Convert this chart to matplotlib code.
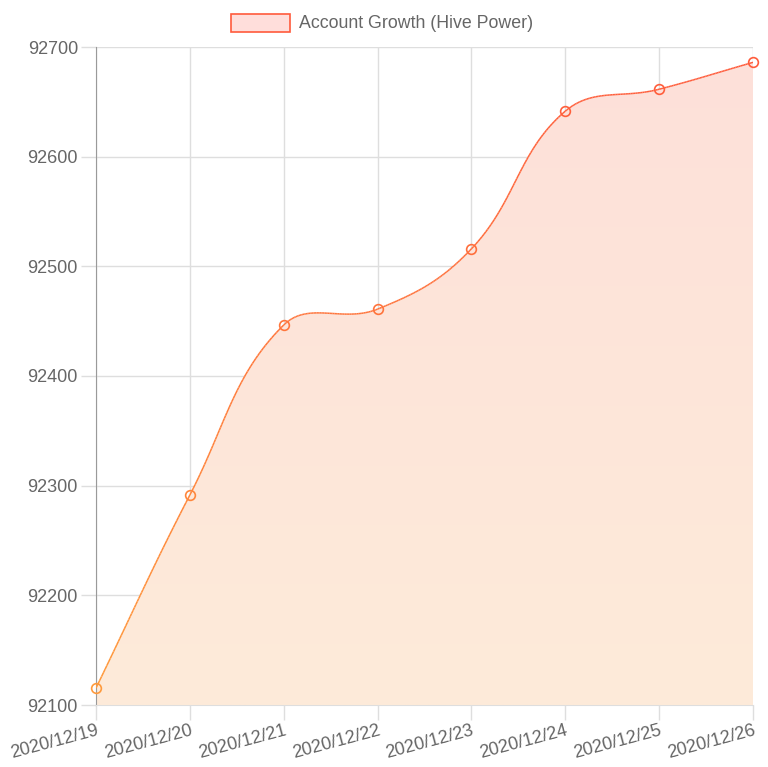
import numpy as np
import matplotlib
matplotlib.use("Agg")
import matplotlib.pyplot as plt
from matplotlib.collections import LineCollection
from matplotlib.patches import Rectangle, Polygon
from matplotlib.colors import to_rgb

plt.rcParams['font.family'] = ['Liberation Sans', 'DejaVu Sans']

dates = ['2020/12/19', '2020/12/20', '2020/12/21', '2020/12/22',
         '2020/12/23', '2020/12/24', '2020/12/25', '2020/12/26']
hive_power = [92115.5, 92291.5, 92446.5, 92461, 92516, 92641.5, 92661.5, 92686]
y_ticks = [92100, 92200, 92300, 92400, 92500, 92600, 92700]
label = 'Account Growth (Hive Power)'

W, H, DPI = 768, 767, 100
left, right, top, bottom = 96, 753, 47, 705
ymin, ymax = 92100, 92700

line_top = np.array(to_rgb('#ff5a3c'))
line_bot = np.array(to_rgb('#ff9c3c'))
fill_top = np.array(to_rgb('#fde0da'))
fill_bot = np.array(to_rgb('#feebd9'))
grid_c = '#dedede'
text_c = '#666666'

fig = plt.figure(figsize=(W / DPI, H / DPI), dpi=DPI)
ax = fig.add_axes([left / W, 1 - bottom / H, (right - left) / W, (bottom - top) / H])

n = len(dates)
xs = np.arange(n, dtype=float)
ys = np.array(hive_power, dtype=float)

# chart.js style bezier (tension 0.4), computed in pixel space
aw, ah = right - left, bottom - top
px = xs * aw / (n - 1)
py = (ys - ymin) * ah / (ymax - ymin)
t = 0.4
cp_prev, cp_next = [], []
for i in range(n):
    p0 = np.array([px[max(i - 1, 0)], py[max(i - 1, 0)]])
    p1 = np.array([px[i], py[i]])
    p2 = np.array([px[min(i + 1, n - 1)], py[min(i + 1, n - 1)]])
    d01 = np.hypot(*(p1 - p0))
    d12 = np.hypot(*(p2 - p1))
    tot = d01 + d12
    s01 = d01 / tot if tot else 0
    s12 = d12 / tot if tot else 0
    cp_prev.append(p1 - t * s01 * (p2 - p0))
    cp_next.append(p1 + t * s12 * (p2 - p0))
cp_prev = [np.clip(c, [0, 0], [aw, ah]) for c in cp_prev]
cp_next = [np.clip(c, [0, 0], [aw, ah]) for c in cp_next]

curve = []
u = np.linspace(0, 1, 60)[:, None]
for i in range(n - 1):
    a = np.array([px[i], py[i]])
    b = cp_next[i]
    c = cp_prev[i + 1]
    d = np.array([px[i + 1], py[i + 1]])
    seg = (1 - u) ** 3 * a + 3 * (1 - u) ** 2 * u * b + 3 * (1 - u) * u ** 2 * c + u ** 3 * d
    curve.append(seg if i == 0 else seg[1:])
curve = np.vstack(curve)
cx = curve[:, 0] * (n - 1) / aw
cy = curve[:, 1] * (ymax - ymin) / ah + ymin

ax.set_xlim(0, n - 1)
ax.set_ylim(ymin, ymax)

# gradient fill under the curve
grad = np.linspace(0, 1, 256)[:, None]
img = fill_bot + (fill_top - fill_bot) * grad[:, :, None]
img = np.repeat(img, 2, axis=1)
im = ax.imshow(img, extent=[0, n - 1, ymin, ymax], origin='lower', aspect='auto', zorder=1)
poly = Polygon(np.column_stack([np.r_[cx, cx[-1], cx[0]], np.r_[cy, ymin, ymin]]),
               closed=True, transform=ax.transData, facecolor='none', edgecolor='none')
ax.add_patch(poly)
im.set_clip_path(poly)

# gradient line
def line_color(v):
    f = (v - ymin) / (ymax - ymin)
    return line_bot + (line_top - line_bot) * f

pts = np.column_stack([cx, cy]).reshape(-1, 1, 2)
segs = np.concatenate([pts[:-1], pts[1:]], axis=1)
cols = [line_color((cy[k] + cy[k + 1]) / 2) for k in range(len(cy) - 1)]
ax.add_collection(LineCollection(segs, colors=cols, linewidths=1.1, zorder=3))

for x, y in zip(xs, ys):
    ax.plot(x, y, 'o', ms=7, mfc='none', mec=line_color(y), mew=1.2, zorder=4, clip_on=False)

# grid and axes
ax.set_xticks(xs)
ax.set_xticklabels(dates, rotation=15, ha='right', va='top', rotation_mode='anchor')
ax.set_yticks(y_ticks)
ax.set_yticklabels([str(v) for v in y_ticks])
ax.grid(True, color=grid_c, linewidth=1.0, zorder=0)
ax.set_axisbelow(True)
ax.tick_params(axis='both', length=11, color=grid_c, width=1.0, labelcolor=text_c, labelsize=13)
ax.tick_params(axis='y', pad=2)
ax.tick_params(axis='x', pad=1)
for s in ['top', 'right', 'bottom']:
    ax.spines[s].set_color(grid_c)
ax.spines['left'].set_color('#9a9a9a')
ax.spines['right'].set_visible(False)
ax.spines['top'].set_visible(False)

# legend
fig.patches.append(Rectangle((231 / W, 1 - 32 / H), 59 / W, 18 / H, transform=fig.transFigure,
                             facecolor='#ffdedb', edgecolor='#ff5a3c', linewidth=1.2))
fig.text(299 / W, 1 - 23 / H, label, color=text_c, fontsize=12.8, va='center', ha='left')

fig.savefig('out.png', dpi=DPI)
